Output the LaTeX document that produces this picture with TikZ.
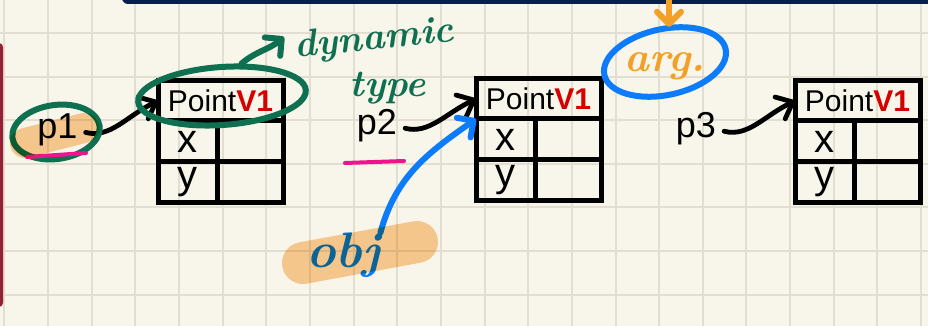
\documentclass[tikz,border=0pt]{standalone}
\usepackage{fontspec}
\usepackage{xcolor}
\usetikzlibrary{arrows.meta,positioning,calc,shapes.geometric}
\newfontfamily\boxfont{Liberation Sans}
\definecolor{paper}{RGB}{248,246,234}
\definecolor{gridgray}{RGB}{226,223,210}
\definecolor{navybar}{RGB}{6,32,72}
\definecolor{marginred}{RGB}{150,32,52}
\definecolor{ptred}{RGB}{215,0,0}
\definecolor{inkgreen}{RGB}{14,112,80}
\definecolor{inkblue}{RGB}{12,124,250}
\definecolor{inkorange}{RGB}{244,160,40}
\definecolor{inkpink}{RGB}{238,20,140}
\definecolor{hilite}{RGB}{252,206,152}

\tikzset{
  hdr/.style={draw, line width=2.5pt, minimum width=62.5pt, minimum height=20pt, inner sep=0pt, outer sep=0pt, font=\boxfont\fontsize{15}{15}\selectfont},
  cell/.style={draw, line width=2.5pt, minimum height=20.5pt, inner sep=0pt, outer sep=0pt, font=\boxfont\fontsize{20}{20}\selectfont},
  ptrlabel/.style={font=\boxfont\fontsize{18}{18}\selectfont, inner sep=0pt, anchor=base},
  ptr/.style={line width=2.4pt, line cap=round, shorten <=4pt, -{Straight Barb[length=7pt,width=12pt,round]}},
  inkarrow/.style={line width=3pt, line cap=round, -{Straight Barb[length=6pt,width=12pt,round]}},
  ring/.style={ellipse, draw, line width=3pt, inner sep=0pt},
  scrawl/.style={font=\fontsize{21}{21}\selectfont\bfseries\itshape, inner sep=0pt},
  pinkstroke/.style={draw=inkpink, line width=2pt, line cap=round},
  hilitestroke/.style={draw=hilite, line cap=round, blend mode=multiply},
  gridline/.style={draw=gridgray, line width=1pt}
}

\begin{document}
\begin{tikzpicture}[x=0.5pt, y=0.5pt]
  \useasboundingbox (0,0) rectangle (928,-326);
  \fill[paper] (0,0) rectangle (928,-326);
  \foreach \k in {0,...,21}
    \draw[gridline] ({4.4+43.65*\k},0) -- ({4.4+43.65*\k},-326);
  \foreach \k in {0,...,6}
    \draw[gridline] (0,{-33-43.6*\k}) -- (928,{-33-43.6*\k});
  \fill[navybar, rounded corners=3pt] (122,10) rectangle (940,-4);
  \fill[marginred, rounded corners=2pt] (-10,-43) rectangle (3,-307);

  % the three objects
  \foreach \i/\cx/\cy in {1/220.5/-101, 2/538.5/-99, 3/857.5/-101} {
    \node[hdr] (h\i) at (\cx,\cy) {Point\textcolor{ptred}{\bfseries V1}};
    \node[cell, minimum width=29.5pt, anchor=north west] (xk\i) at (h\i.south west) {x};
    \node[cell, minimum width=33pt, anchor=north west] (xv\i) at (xk\i.north east) {};
    \node[cell, minimum width=29.5pt, anchor=north west] (yk\i) at (xk\i.south west) {y};
    \node[cell, minimum width=33pt, anchor=north west] (yv\i) at (xv\i.south west) {};
  }

  % pointers
  \node[ptrlabel] (p1) at (57.5,-139) {p1};
  \node[ptrlabel] (p2) at (377,-135) {p2};
  \node[ptrlabel] (p3) at (696,-138) {p3};
  \draw[ptr] (p1.east) to[out=-15, in=205] (h1.west);
  \draw[ptr] (p2.east) to[out=-15, in=205] (h2.west);
  \draw[ptr] (p3.east) to[out=-15, in=205] (h3.west);

  % notes
  \node[ring, draw=inkgreen, minimum width=84pt, minimum height=29pt, rotate=4] (dynring) at (222,-96) {};
  \node[ring, draw=inkgreen, minimum width=44pt, minimum height=27pt, rotate=8] (p1ring) at (56,-132) {};
  \node[scrawl, text=inkgreen, rotate=6, font=\fontsize{19}{19}\selectfont\bfseries\itshape] (dyntxt) at (374,-40) {dynamic};
  \node[scrawl, text=inkgreen, font=\fontsize{19}{19}\selectfont\bfseries\itshape, below=7pt of dyntxt.south, xshift=6pt] (typetxt) {type};
  \coordinate (dyntip) at (284,-37);
  \draw[inkarrow, draw=inkgreen] (dynring.55) to[out=40, in=220] (dyntip);

  \node[scrawl, text=inkorange, anchor=base] (argtxt) at (665,-72) {arg.};
  \node[ring, draw=inkblue, minimum width=62pt, minimum height=33pt, rotate=12] (argring) at (665,-62) {};
  \coordinate (argsrc) at (669,2);
  \draw[inkarrow, draw=inkorange] (argsrc) -- (argsrc |- argring.north);

  \node[scrawl, text=inkblue, anchor=base, font=\fontsize{25}{25}\selectfont\bfseries\itshape] (objtxt) at (343,-268) {obj};
  \draw[inkarrow, draw=inkblue] (objtxt.north east) to[out=75, in=215] (xk2.north west);

  \draw[pinkstroke] (27,-157) -- (86,-153);
  \draw[pinkstroke] (345,-163) -- (404,-161);
  \draw[hilitestroke, line width=15pt] (25,-143) -- (84,-128);
  \draw[hilitestroke, line width=21pt] (303,-263) -- (417,-242);
\end{tikzpicture}
\end{document}
